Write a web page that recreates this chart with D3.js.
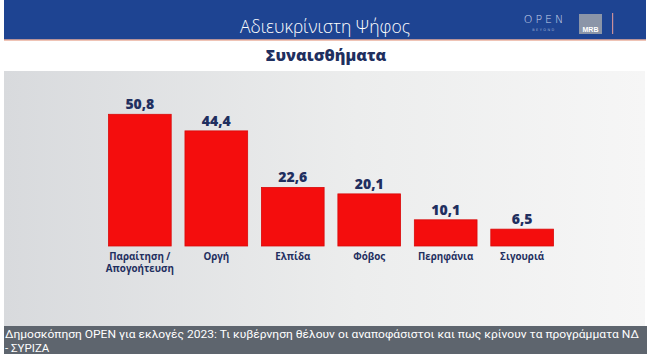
<!DOCTYPE html>
<html>
<head>
<meta charset="utf-8">
<script src="https://cdn.jsdelivr.net/npm/d3@7"></script>
<style>
  body { margin: 0; background: #fff; }
  svg { display: block; }
</style>
</head>
<body>
<div id="chart-area"></div>
<script>
// data
var categories = ["Παραίτηση / Απογοήτευση", "Οργή", "Ελπίδα", "Φόβος", "Περηφάνια", "Σιγουριά"];
var values = [50.8, 44.4, 22.6, 20.1, 10.1, 6.5];
var title = "Αδιευκρίνιστη Ψήφος";
var subtitle = "Συναισθήματα";
var caption = ["Δημοσκόπηση OPEN για εκλογές 2023: Τι κυβέρνηση θέλουν οι αναποφάσιστοι και πως κρίνουν τα προγράμματα ΝΔ", "- ΣΥΡΙΖΑ"];

var W = 650, H = 354;
var navy = "#1f2f5f";

var svg = d3.select("#chart-area").append("svg")
    .attr("width", W)
    .attr("height", H);

var defs = svg.append("defs");
var grad = defs.append("linearGradient")
    .attr("id", "bg")
    .attr("x1", "0%").attr("x2", "100%")
    .attr("y1", "0%").attr("y2", "0%");
grad.append("stop").attr("offset", "0%").attr("stop-color", "#d8dadd");
grad.append("stop").attr("offset", "55%").attr("stop-color", "#eceded");
grad.append("stop").attr("offset", "100%").attr("stop-color", "#f6f6f6");

// header band
svg.append("rect")
    .attr("x", 4).attr("y", 0)
    .attr("width", 642).attr("height", 39.5)
    .attr("fill", "#1e4492");
svg.append("rect")
    .attr("x", 4).attr("y", 39.5)
    .attr("width", 642).attr("height", 1.2)
    .attr("fill", "#e0866a");

svg.append("text")
    .attr("x", 325).attr("y", 33)
    .attr("text-anchor", "middle")
    .attr("font-family", "'Open Sans', sans-serif")
    .attr("font-weight", 300)
    .attr("font-size", "17.5px")
    .attr("fill", "#ffffff")
    .text(title);

// logos
var logo = svg.append("g");
logo.append("text")
    .attr("x", 545).attr("y", 23)
    .attr("text-anchor", "middle")
    .attr("font-family", "'DejaVu Sans', sans-serif")
    .attr("font-weight", 200)
    .attr("font-size", "11px")
    .attr("letter-spacing", "3px")
    .attr("fill", "#c9d3ea")
    .text("OPEN");
logo.append("text")
    .attr("x", 544).attr("y", 31)
    .attr("text-anchor", "middle")
    .attr("font-family", "'DejaVu Sans', sans-serif")
    .attr("font-size", "3.5px")
    .attr("letter-spacing", "1.5px")
    .attr("fill", "#9fb0d6")
    .text("BEYOND");
logo.append("rect")
    .attr("x", 579).attr("y", 14)
    .attr("width", 23).attr("height", 20)
    .attr("fill", "#8b95a8");
logo.append("text")
    .attr("x", 590.5).attr("y", 32)
    .attr("text-anchor", "middle")
    .attr("font-family", "'Liberation Sans', sans-serif")
    .attr("font-weight", "bold")
    .attr("font-size", "7px")
    .attr("fill", "#ffffff")
    .text("MRB");
logo.append("rect")
    .attr("x", 612).attr("y", 13)
    .attr("width", 1.2).attr("height", 21)
    .attr("fill", "#c98f9a");

// subtitle band
svg.append("rect")
    .attr("x", 4).attr("y", 40.7)
    .attr("width", 642).attr("height", 30.3)
    .attr("fill", "#ffffff");
svg.append("text")
    .attr("x", 326).attr("y", 61)
    .attr("text-anchor", "middle")
    .attr("font-family", "'Open Sans', sans-serif")
    .attr("font-weight", 800)
    .attr("font-size", "16px")
    .attr("fill", navy)
    .text(subtitle);

// chart background
svg.append("rect")
    .attr("x", 4).attr("y", 71)
    .attr("width", 641).attr("height", 255)
    .attr("fill", "url(#bg)");

// scales
var x = d3.scaleBand()
    .domain(categories)
    .range([108.5, 553.5])
    .paddingInner(0.18)
    .paddingOuter(0);

var y = d3.scaleLinear()
    .domain([0, 50.8])
    .range([246, 114.3]);

var g = svg.append("g");

g.selectAll("rect.bar")
    .data(values)
    .enter().append("rect")
    .attr("class", "bar")
    .attr("x", (d, i) => x(categories[i]))
    .attr("y", (d) => y(d))
    .attr("width", x.bandwidth())
    .attr("height", (d) => y(0) - y(d))
    .attr("fill", "#f40d0d")
    .attr("stroke", "#d90a0a")
    .attr("stroke-width", 0.8);

g.selectAll("text.value")
    .data(values)
    .enter().append("text")
    .attr("class", "value")
    .attr("x", (d, i) => x(categories[i]) + x.bandwidth() / 2)
    .attr("y", (d) => y(d) - 5)
    .attr("text-anchor", "middle")
    .attr("font-family", "'Open Sans', sans-serif")
    .attr("font-weight", 800)
    .attr("font-size", "14px")
    .attr("fill", navy)
    .text((d) => String(d).replace(".", ","));

var labels = g.selectAll("text.cat")
    .data(categories)
    .enter().append("text")
    .attr("class", "cat")
    .attr("x", (d) => x(d) + x.bandwidth() / 2)
    .attr("y", 260)
    .attr("text-anchor", "middle")
    .attr("font-family", "'Open Sans', sans-serif")
    .attr("font-weight", "bold")
    .attr("font-size", "9.8px")
    .attr("fill", navy);

labels.each(function(d) {
    var parts = d.indexOf(" / ") >= 0 ? [d.split(" / ")[0] + " /", d.split(" / ")[1]] : [d];
    var t = d3.select(this);
    parts.forEach((p, i) => {
        t.append("tspan")
            .attr("x", x(d) + x.bandwidth() / 2)
            .attr("dy", i === 0 ? 0 : 11.8)
            .text(p);
    });
});

// caption band
svg.append("rect")
    .attr("x", 4).attr("y", 326)
    .attr("width", 643).attr("height", 28)
    .attr("fill", "#5e656e");

caption.forEach((c, i) => {
    var t = svg.append("text")
        .attr("x", 5)
        .attr("y", 337.5 + i * 14.2)
        .attr("font-family", "Roboto, sans-serif")
        .attr("font-size", "11.5px")
        .attr("fill", "#ffffff")
        .text(c);
    if (i === 0) {
        t.attr("textLength", 634).attr("lengthAdjust", "spacingAndGlyphs");
    }
});
</script>
</body>
</html>
